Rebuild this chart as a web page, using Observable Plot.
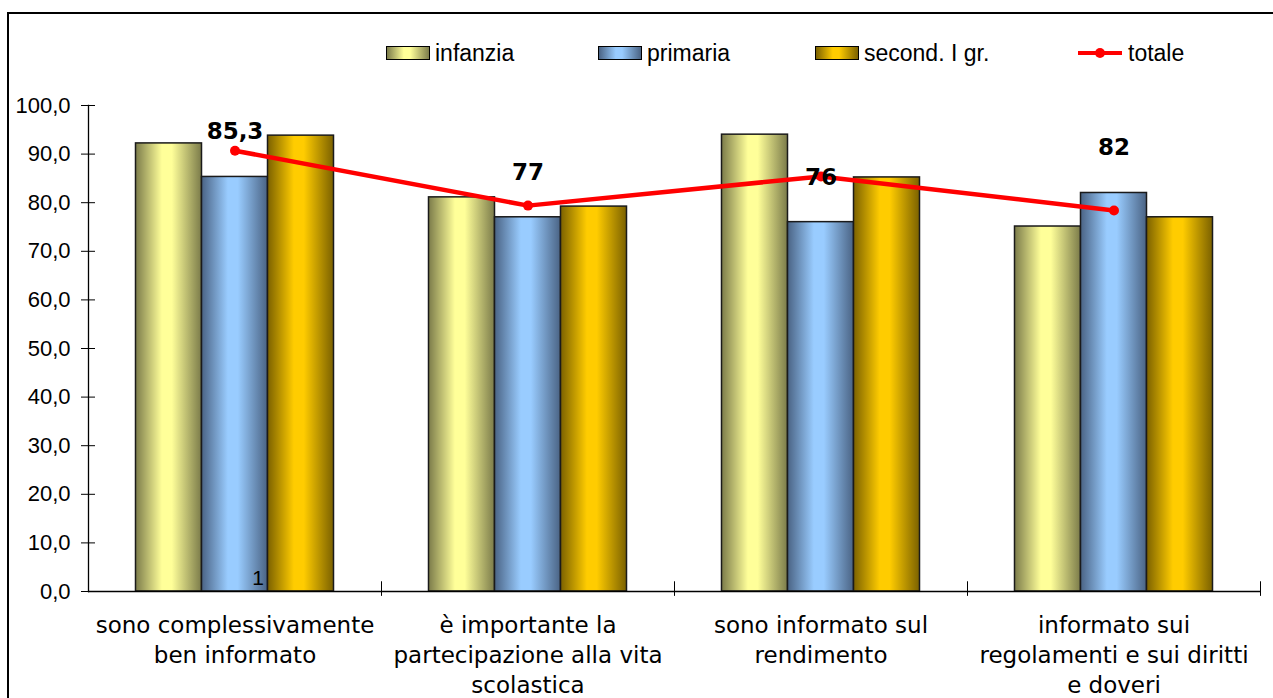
<!DOCTYPE html>
<html>
<head>
<meta charset="utf-8">
<script src="https://cdn.jsdelivr.net/npm/d3@7"></script>
<script src="https://cdn.jsdelivr.net/npm/@observablehq/plot@0.6"></script>
<style>
  html, body { margin: 0; padding: 0; background: #fff; overflow: hidden; }
  #wrap { position: relative; width: 1273px; height: 698px; font-family: "Liberation Sans", Arial, sans-serif; }
  #frame { position: absolute; left: 7px; top: 12px; width: 1300px; height: 700px; border-left: 2px solid #000; border-top: 2px solid #000; box-sizing: border-box; }
  #chart { position: absolute; left: 0; top: 0; }
  .leg { position: absolute; top: 40px; height: 26px; display: flex; align-items: center; font-size: 23px; color: #000; }
  .sw { width: 42px; height: 12px; border: 1px solid #000; margin-right: 5px; }
  .ln { width: 44px; height: 4px; background: #ff0000; position: relative; margin-right: 6px; }
  .ln::after { content: ""; position: absolute; left: 17px; top: -3px; width: 10px; height: 10px; border-radius: 50%; background: #ff0000; }
</style>
</head>
<body>
<div id="wrap">
  <div id="frame"></div>
  <div id="chart"></div>
  <div id="legend"></div>
</div>
<script>
const categories = [
  "sono complessivamente\nben informato",
  "è importante la\npartecipazione alla vita\nscolastica",
  "sono informato sul\nrendimento",
  "informato sui\nregolamenti e sui diritti\ne doveri"
];
const seriesNames = ["infanzia", "primaria", "second. I gr.", "totale"];
const infanzia = [92.2, 81.1, 94.0, 75.1];
const primaria = [85.3, 77, 76, 82];
const secondaria = [93.8, 79.2, 85.2, 77.0];
const totale = [90.7, 79.4, 85.4, 78.4];
const yTicks = [0, 10, 20, 30, 40, 50, 60, 70, 80, 90, 100];

const gradients = [
  {id: "gInf", dark: "#7b7b4a", light: "#ffff99"},
  {id: "gPri", dark: "#4a6384", light: "#99ccff"},
  {id: "gSec", dark: "#7b6100", light: "#ffcc00"}
];

const rows = (vals) => categories.map((c, i) => ({cat: c, v: vals[i]}));
const fmt = (v) => String(v).replace(".", ",");

const bandW = (1260 - 88) / categories.length;
const barW = 66;
const inset = (bandW - barW) / 2;

const barOpts = (vals, fill, dx) => Plot.barY(rows(vals), {
  x: "cat", y: "v", fill, stroke: "#1a1a1a", strokeWidth: 1.5,
  insetLeft: inset, insetRight: inset, dx
});

const plot = Plot.plot({
  width: 1273,
  height: 698,
  marginLeft: 88,
  marginRight: 13,
  marginTop: 105,
  marginBottom: 107,
  style: {fontFamily: "'Liberation Sans', Arial, sans-serif", background: "transparent", color: "#000"},
  x: {domain: categories, padding: 0, label: null},
  y: {domain: [0, 100], label: null},
  marks: [
    barOpts(infanzia, "url(#gInf)", -barW),
    barOpts(primaria, "url(#gPri)", 0),
    barOpts(secondaria, "url(#gSec)", barW),
    Plot.ruleY([0], {stroke: "#000", strokeWidth: 1.3}),
    Plot.frame({anchor: "left", stroke: "#000", strokeWidth: 1.3}),
    Plot.ruleX(categories, {x: d => d, dx: bandW / 2, y1: -1, y2: 2, stroke: "#000", strokeWidth: 1}),
    Plot.axisY({ticks: yTicks, tickFormat: d => d.toFixed(1).replace(".", ","), tickSize: 14, dx: 7, tickPadding: 11, fontSize: 22, label: null, strokeWidth: 1}),
    Plot.axisX({tickSize: 0, tickPadding: 20, fontSize: 23, lineHeight: 1.3, fontFamily: "'DejaVu Sans', Verdana, sans-serif", label: null, lineAnchor: "top"}),
    Plot.line(rows(totale), {x: "cat", y: "v", stroke: "#ff0000", strokeWidth: 4.5}),
    Plot.dot(rows(totale), {x: "cat", y: "v", r: 5, fill: "#ff0000"}),
    Plot.text(rows(primaria), {x: "cat", y: "v", text: d => fmt(d.v), dy: -45, fontSize: 23, fontWeight: "bold", fontFamily: "'DejaVu Sans', Verdana, sans-serif"}),
    Plot.text(["1"], {x: () => categories[0], y: () => 0, dx: 23, dy: -13, fontSize: 21})
  ]
});

const defs = d3.select(plot).insert("defs", ":first-child");
for (const g of gradients) {
  const lg = defs.append("linearGradient").attr("id", g.id).attr("x1", "0").attr("x2", "1").attr("y1", "0").attr("y2", "0");
  lg.append("stop").attr("offset", "0").attr("stop-color", g.dark);
  lg.append("stop").attr("offset", "0.4").attr("stop-color", g.light);
  lg.append("stop").attr("offset", "0.55").attr("stop-color", g.light);
  lg.append("stop").attr("offset", "1").attr("stop-color", g.dark);
}
document.getElementById("chart").appendChild(plot);

// legend
const legendPos = [386, 598, 815, 1078];
const legend = document.getElementById("legend");
seriesNames.forEach((name, i) => {
  const item = document.createElement("div");
  item.className = "leg";
  item.style.left = legendPos[i] + "px";
  const sw = document.createElement("div");
  if (i < 3) {
    const g = gradients[i];
    sw.className = "sw";
    sw.style.background = `linear-gradient(to right, ${g.dark} 0%, ${g.light} 40%, ${g.light} 55%, ${g.dark} 100%)`;
  } else {
    sw.className = "ln";
  }
  const t = document.createElement("span");
  t.textContent = name;
  item.appendChild(sw);
  item.appendChild(t);
  legend.appendChild(item);
});
</script>
</body>
</html>
